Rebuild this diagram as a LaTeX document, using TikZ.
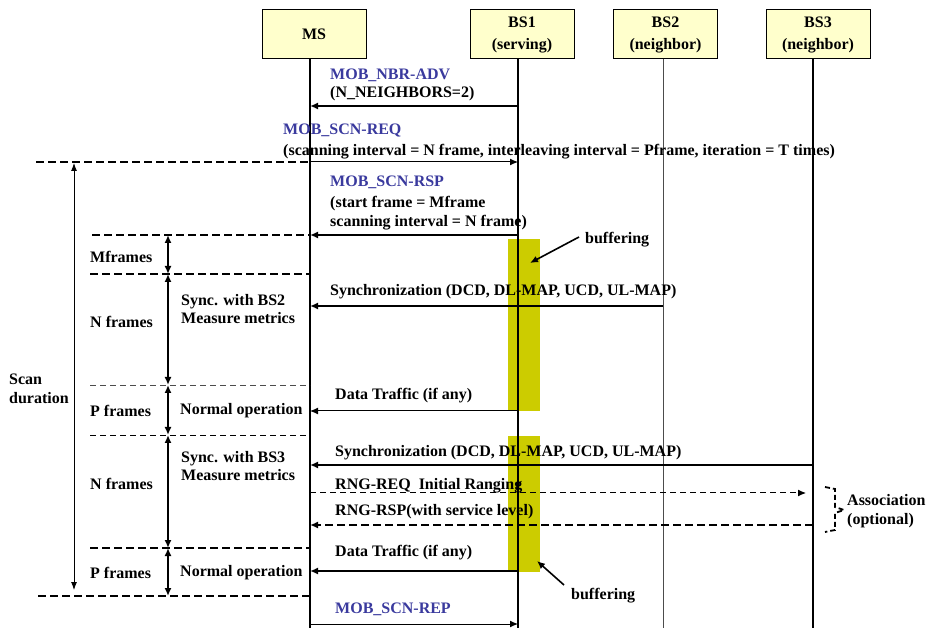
\documentclass[tikz,border=0pt]{standalone}
\usepackage{fontspec}
\setmainfont{Liberation Serif}
\usetikzlibrary{arrows.meta,calc}
\definecolor{boxfill}{HTML}{FFFFCC}
\definecolor{bufcol}{HTML}{CCCC00}
\definecolor{msgblue}{HTML}{3A3A9E}
\begin{document}
\begin{tikzpicture}[x=1pt,y=-1pt,
  every node/.style={font=\fontsize{16}{18.5}\selectfont\bfseries, inner sep=0pt},
  hdr/.style={draw=black, line width=1pt, fill=boxfill, minimum width=104pt, minimum height=49pt, align=center, font=\fontsize{16}{22}\selectfont\bfseries},
  lbl/.style={anchor=west, align=left},
  msgtxt/.style={anchor=west, text=msgblue},
  tip/.style={-{Latex[length=8pt,width=7pt]}},
  thickmsg/.style={tip, line width=2.2pt},
  thinmsg/.style={tip, line width=1pt},
  septhick/.style={line width=2.6pt, dash pattern=on 8pt off 4pt},
  septhin/.style={line width=0.9pt, dash pattern=on 6pt off 4pt, draw=black!70},
  span/.style={line width=2pt, {Latex[length=8pt,width=7pt]}-{Latex[length=8pt,width=7pt]}},
  lifethick/.style={line width=2.2pt},
  buf/.style={fill=bufcol, draw=none}
]
\useasboundingbox (0,0) rectangle (930,628);
\fill[white] (0,0) rectangle (930,628);

% buffering bars
\fill[buf] (508,239) rectangle (540,411);
\fill[buf] (508,436) rectangle (540,572);

% lifeline x coordinates
\coordinate (msx) at (310,0);
\coordinate (bs1x) at (518,0);
\coordinate (bs2x) at (663,0);
\coordinate (bs3x) at (813,0);

% headers
\node[hdr] (MS) at (314,34.5) {MS};
\node[hdr] (BS1) at (522,34.5) {BS1\\(serving)};
\node[hdr] (BS2) at (665.5,34.5) {BS2\\(neighbor)};
\node[hdr] (BS3) at (818,34.5) {BS3\\(neighbor)};

% lifelines
\draw[lifethick] (msx |- MS.south) -- (msx |- 0,628);
\draw[lifethick] (bs1x |- BS1.south) -- (bs1x |- 0,628);
\draw[line width=0.9pt, draw=black!70] (bs2x |- BS2.south) -- (bs2x |- 0,628);
\draw[lifethick] (bs3x |- BS3.south) -- (bs3x |- 0,628);

% separators
\coordinate (s0) at (36,162);  \draw[septhick] (s0) -- (msx |- s0);
\coordinate (s1) at (92,235);  \draw[septhick] (s1) -- (msx |- s1);
\coordinate (s2) at (90,274);  \draw[septhick] (s2) -- (msx |- s2);
\coordinate (s3) at (90,385);  \draw[septhin] (s3) -- (msx |- s3);
\coordinate (s4) at (90,435);  \draw[septhin, draw=black] (s4) -- (msx |- s4);
\coordinate (s5) at (90,548);  \draw[septhick] (s5) -- (msx |- s5);
\coordinate (s6) at (38,596);  \draw[septhick] (s6) -- (msx |- s6);

% scan duration arrow
\coordinate (sd1) at (74,163);
\coordinate (sd2) at (74,590);
\draw[line width=0.9pt, {Latex[length=8pt,width=6pt]}-{Latex[length=8pt,width=6pt]}] (sd1) -- (sd2);
\node[lbl] (scan) at (9,389) {Scan\\duration};

% frame spans
\coordinate (f0) at (168,235);
\coordinate (f1) at (168,274);
\coordinate (f2) at (168,385);
\coordinate (f3) at (168,435);
\coordinate (f4) at (168,548);
\coordinate (f5) at (168,596);
\draw[span] (f0) -- (f1);
\draw[span] (f1) -- (f2);
\draw[span] (f2) -- (f3);
\draw[span] (f3) -- (f4);
\draw[span] (f4) -- (f5);

\node[lbl] (mfr) at (90,257) {Mframes};
\node[lbl] (nfr1) at (90,322) {N frames};
\node[lbl] (pfr1) at (90,411) {P frames};
\node[lbl] (nfr2) at (90,484) {N frames};
\node[lbl] (pfr2) at (90,573) {P frames};
\node[lbl] (syn2) at (181,309) {Sync. with BS2\\Measure metrics};
\node[lbl] (nop1) at (180,411) {Normal operation};
\node[lbl] (syn3) at (181,466) {Sync. with BS3\\Measure metrics};
\node[lbl] (nop2) at (180,573) {Normal operation};

% messages
\node[msgtxt] (t1) at (330,75) {MOB\_NBR-ADV};
\node[lbl] (t1b) at (330,94) {(N\_NEIGHBORS=2)};
\draw[thickmsg] (bs1x |- 0,106) -- (msx |- 0,106);

\node[msgtxt] (t2) at (283,131) {MOB\_SCN-REQ};
\node[lbl] (t2b) at (283,152) {(scanning interval = N frame, interleaving interval = Pframe, iteration = T times)};
\draw[thinmsg] (msx |- 0,162) -- (bs1x |- 0,162);

\node[msgtxt] (t3) at (330,182) {MOB\_SCN-RSP};
\node[lbl] (t3b) at (330,213) {(start frame = Mframe\\scanning interval = N frame)};
\draw[thickmsg] (bs1x |- 0,235) -- (msx |- 0,235);

\node[lbl] (t4) at (330,292) {Synchronization (DCD, DL-MAP, UCD, UL-MAP)};
\draw[thickmsg] (bs2x |- 0,306) -- (msx |- 0,306);

\node[lbl] (t5) at (335,396) {Data Traffic (if any)};
\draw[thinmsg] (bs1x |- 0,411) -- (msx |- 0,411);

\node[lbl] (t6) at (335,453) {Synchronization (DCD, DL-MAP, UCD, UL-MAP)};
\draw[thickmsg] (bs3x |- 0,465) -- (msx |- 0,465);

\node[lbl] (t7) at (335,486) {RNG-REQ\ \ Initial Ranging};
\coordinate (r1) at (806,493);
\draw[thinmsg, dash pattern=on 6pt off 4pt] (msx |- 0,493) -- (r1);

\node[lbl] (t8) at (335,512) {RNG-RSP(with service level)};
\draw[thickmsg, line width=2.4pt, dash pattern=on 8pt off 4pt] (bs3x |- 0,525) -- (msx |- 0,525);

\node[lbl] (t9) at (335,553) {Data Traffic (if any)};
\draw[thickmsg] (bs1x |- 0,571) -- (msx |- 0,571);

\node[msgtxt] (t10) at (335,609) {MOB\_SCN-REP};
\draw[thinmsg] (msx |- 0,624) -- (bs1x |- 0,624);

% buffering labels
\node[lbl] (buf1) at (585,240) {buffering};
\coordinate (b1a) at (579,237);
\coordinate (b1b) at (530,263);
\draw[thickmsg, line width=1.6pt] (b1a) -- (b1b);
\node[lbl] (buf2) at (571,596) {buffering};
\coordinate (b2a) at (564,585);
\coordinate (b2b) at (537,561);
\draw[thickmsg, line width=1.6pt] (b2a) -- (b2b);

% association brace
\coordinate (br0) at (825,487);
\coordinate (br1) at (835,489);
\coordinate (br2) at (835,507);
\coordinate (br3) at (844,510);
\coordinate (br4) at (835,513);
\coordinate (br5) at (835,530);
\coordinate (br6) at (825,532);
\draw[line width=1.8pt, dash pattern=on 5pt off 3pt] (br0) -- (br1) -- (br2) -- (br3) -- (br4) -- (br5) -- (br6);
\node[lbl] (assoc) at (847,511) {Association\\(optional)};
\end{tikzpicture}
\end{document}
